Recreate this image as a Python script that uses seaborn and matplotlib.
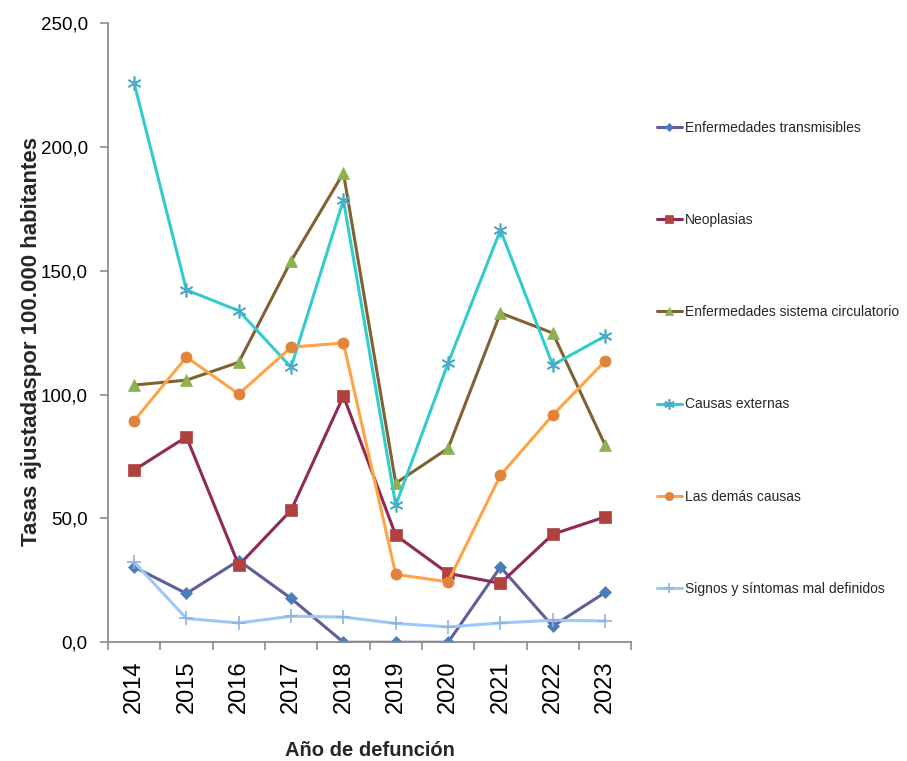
import matplotlib
matplotlib.use("Agg")
import matplotlib.pyplot as plt
from matplotlib.ticker import FixedLocator, FuncFormatter
import seaborn as sns

years = [2014, 2015, 2016, 2017, 2018, 2019, 2020, 2021, 2022, 2023]

transmisibles = [30.4, 19.7, 33.0, 17.7, 0.0, 0.0, 0.0, 30.4, 6.5, 20.1]
neoplasias = [69.5, 82.9, 31.1, 53.3, 99.4, 43.2, 27.8, 23.8, 43.6, 50.6]
circulatorio = [103.8, 105.8, 113.0, 153.9, 189.4, 64.2, 78.3, 132.9, 124.8, 79.6]
externas = [225.8, 142.2, 133.8, 111.0, 178.5, 55.3, 112.7, 166.4, 111.9, 123.6]
demas = [89.4, 115.1, 100.2, 119.1, 120.8, 27.4, 24.4, 67.4, 91.7, 113.5]
signos = [32.4, 9.6, 7.8, 10.5, 10.2, 7.6, 6.2, 7.8, 8.9, 8.6]

series_names = [
    "Enfermedades transmisibles",
    "Neoplasias",
    "Enfermedades sistema circulatorio",
    "Causas externas",
    "Las demás causas",
    "Signos y síntomas mal definidos",
]
series_values = [transmisibles, neoplasias, circulatorio, externas, demas, signos]

# (line colour, marker, marker colour, marker size)
styles = [
    ("#5F5F99", "D", "#4A7EBB", 6),
    ("#8E2A55", "s", "#B0413E", 8),
    ("#806232", "^", "#8DB050", 8),
    ("#33CCCC", (6, 2, 0), "#4BACC6", 10),
    ("#FFA346", "o", "#E0843C", 8),
    ("#9DC8F8", "+", "#8DB3E2", 10),
]

sns.set_theme(style="white")
plt.rcParams["font.family"] = ["Liberation Sans", "DejaVu Sans"]

fig = plt.figure(figsize=(9.07, 7.61), dpi=100)
ax = fig.add_axes([0.119, 0.156, 0.577, 0.814])

for name, vals, (lc, mk, mc, ms) in zip(series_names, series_values, styles):
    thin = not isinstance(mk, str) or mk == "+"
    sns.lineplot(
        x=years, y=vals, ax=ax, color=lc, linewidth=2.2, label=name,
        marker=mk, markersize=ms, markerfacecolor=mc, markeredgecolor=mc,
        markeredgewidth=1.2 if thin else 0.5,
    )

ax.set_xlim(2013.5, 2023.5)
ax.set_ylim(0, 250)

# axes frame: only left and bottom spines in grey
for side in ("top", "right"):
    ax.spines[side].set_visible(False)
for side in ("left", "bottom"):
    ax.spines[side].set_color("#8C8C8C")
    ax.spines[side].set_linewidth(1.3)

ax.yaxis.set_major_locator(FixedLocator([0, 50, 100, 150, 200, 250]))
ax.yaxis.set_major_formatter(FuncFormatter(lambda v, p: f"{v:.1f}".replace(".", ",")))
ax.tick_params(axis="y", which="major", direction="out", length=5.5, width=1.2,
               color="#8C8C8C", pad=9, left=True, labelsize=13.5, labelcolor="#000000")

ax.set_xticks(years)
ax.set_xticklabels([str(y) for y in years], rotation=90, fontsize=17, color="#000000")
ax.xaxis.set_minor_locator(FixedLocator([y - 0.5 for y in years] + [2023.5]))
ax.tick_params(axis="x", which="major", length=0, pad=13)
ax.tick_params(axis="x", which="minor", direction="out", length=6, width=1.2,
               color="#8C8C8C", bottom=True)

ax.set_xlabel("Año de defunción", fontsize=14.5, fontweight="bold", labelpad=20)
ax.set_ylabel("Tasas ajustadaspor 100.000 habitantes", fontsize=16,
              fontweight="bold")
ax.yaxis.set_label_coords(-0.126, 0.485)
ax.grid(False)

ax.legend(
    loc="upper left", bbox_to_anchor=(1.025, 0.862), frameon=False,
    prop={"size": 10}, labelspacing=5.63,
    handlelength=1.8, handletextpad=0.2, markerscale=0.75,
)

fig.savefig("out.png", dpi=100)
